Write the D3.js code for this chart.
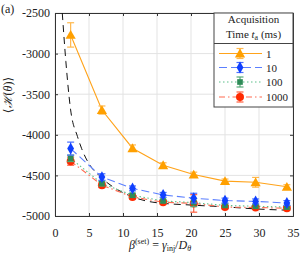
<!DOCTYPE html>
<html><head><meta charset="utf-8">
<script src="https://cdn.jsdelivr.net/npm/d3@7"></script>
<style>body{margin:0;background:#fff}svg{display:block}text{font-family:"Liberation Serif","DejaVu Serif",serif;fill:#222}</style>
</head><body><svg id="c" width="300" height="256"></svg>
<script>
const betas = [2.3, 6.9, 11.4, 15.9, 20.4, 25.0, 29.5, 34.1];
const seriesNames = ["1", "10", "100", "1000"];
const h1 = [-2770, -3695, -4165, -4375, -4490, -4570, -4585, -4640];
const e1 = [150, 50, 40, 30, 30, 25, 60, 25];
const h10 = [-4170, -4520, -4660, -4740, -4780, -4810, -4820, -4840];
const e10 = [80, 40, 30, 30, 60, 30, 30, 30];
const h100 = [-4290, -4600, -4745, -4815, -4835, -4870, -4880, -4890];
const e100 = [40, 30, 25, 20, 50, 20, 20, 20];
const h1000 = [-4325, -4620, -4765, -4830, -4845, -4890, -4895, -4905];
const e1000 = [50, 30, 25, 20, 108, 20, 20, 20];
const theoryBeta = [1.07, 1.6, 2.3, 3.3, 3.9, 5.1, 6.4, 8.5, 10.7, 14.4, 20, 24.5, 30, 35];
const theoryH = [-2500, -3100, -3694, -4020, -4166, -4370, -4495, -4640, -4740, -4830, -4865, -4885, -4915, -4930];
const xTicks = [0, 5, 10, 15, 20, 25, 30, 35];
const yTicks = [-2500, -3000, -3500, -4000, -4500, -5000];

const svg = d3.select("#c");
const L = 55, R = 293, T = 13, B = 216;
const x = d3.scaleLinear().domain([0, 35]).range([L, R]);
const y = d3.scaleLinear().domain([-5000, -2500]).range([B, T]);

const defs = svg.append("defs");
defs.append("clipPath").attr("id", "clip").append("rect").attr("x", L).attr("y", T).attr("width", R - L).attr("height", B - T);

// grid
svg.append("g").selectAll("line").data(xTicks).join("line")
  .attr("x1", d => x(d)).attr("x2", d => x(d)).attr("y1", T).attr("y2", B)
  .attr("stroke", "#e3e3e3").attr("stroke-width", 1);
svg.append("g").selectAll("line").data(yTicks).join("line")
  .attr("x1", L).attr("x2", R).attr("y1", d => y(d)).attr("y2", d => y(d))
  .attr("stroke", "#e3e3e3").attr("stroke-width", 1);

// axes
const ax = svg.append("g").attr("transform", `translate(0,${B})`)
  .call(d3.axisBottom(x).tickValues(xTicks).tickSize(-3).tickPadding(12));
const ay = svg.append("g").attr("transform", `translate(${L},0)`)
  .call(d3.axisLeft(y).tickValues(yTicks).tickSize(-3).tickPadding(5).tickFormat(d => d));
svg.append("g").attr("transform", `translate(0,${T})`)
  .call(d3.axisTop(x).tickValues(xTicks).tickSize(-3).tickFormat(""));
svg.append("g").attr("transform", `translate(${R},0)`)
  .call(d3.axisRight(y).tickValues(yTicks).tickSize(-3).tickFormat(""));
svg.selectAll(".domain").attr("stroke", "#333");
svg.selectAll(".tick line").attr("stroke", "#333");
svg.selectAll(".tick text").style("font-family", '"Liberation Serif",serif').style("font-size", "12px").attr("fill", "#222");

// theory curve
const g = svg.append("g").attr("clip-path", "url(#clip)");
g.append("path").datum(theoryBeta.map((b, i) => [b, theoryH[i]]))
  .attr("d", d3.line().x(d => x(d[0])).y(d => y(d[1])).curve(d3.curveMonotoneX))
  .attr("fill", "none").attr("stroke", "#111").attr("stroke-width", 1).attr("stroke-dasharray", "7,5");

const series = [
  {name: seriesNames[0], h: h1, e: e1, line: "#ffa31a", mark: "#ffa000", err: "#ffb84d", dash: null, sym: d3.symbolTriangle, size: 45},
  {name: seriesNames[1], h: h10, e: e10, line: "#5b7fff", mark: "#1040ff", err: "#4a70ff", dash: "8,4", sym: d3.symbolDiamond, size: 40},
  {name: seriesNames[2], h: h100, e: e100, line: "#5cc08a", mark: "#2e8b57", err: "#55aa77", dash: "1.5,2.5", sym: d3.symbolSquare, size: 32},
  {name: seriesNames[3], h: h1000, e: e1000, line: "#ff6a50", mark: "#ff2a00", err: "#ff6040", dash: "6,3,1.5,3", sym: d3.symbolCircle, size: 50}
];

// lines
series.slice().reverse().forEach(s => {
  g.append("path").datum(betas.map((b, i) => [b, s.h[i]]))
    .attr("d", d3.line().x(d => x(d[0])).y(d => y(d[1])))
    .attr("fill", "none").attr("stroke", s.line).attr("stroke-width", 1.1)
    .attr("stroke-dasharray", s.dash);
});
// error bars + markers
series.slice().reverse().forEach(s => {
  const eg = svg.append("g");
  betas.forEach((b, i) => {
    const cx = x(b), y0 = y(s.h[i] - s.e[i]), y1 = y(s.h[i] + s.e[i]);
    eg.append("line").attr("x1", cx).attr("x2", cx).attr("y1", y0).attr("y2", y1).attr("stroke", s.err).attr("stroke-width", 1.2);
    [y0, y1].forEach(yy => eg.append("line").attr("x1", cx - 3.5).attr("x2", cx + 3.5).attr("y1", yy).attr("y2", yy).attr("stroke", s.err).attr("stroke-width", 1.2));
  });
  eg.selectAll("path").data(betas).join("path")
    .attr("transform", (b, i) => `translate(${x(b)},${y(s.h[i]) + (s.sym === d3.symbolTriangle ? 1 : 0)})`)
    .attr("d", d3.symbol().type(s.sym).size(s.size))
    .attr("fill", s.mark);
});

// legend
const lg = svg.append("g");
lg.append("rect").attr("x", 214).attr("y", T).attr("width", R - 214).attr("height", 94)
  .attr("fill", "#fff").attr("stroke", "#444").attr("stroke-width", 1);
lg.append("line").attr("x1", 214).attr("x2", R).attr("y1", 43.5).attr("y2", 43.5).attr("stroke", "#444");
lg.append("text").attr("x", 253.5).attr("y", 23).attr("text-anchor", "middle").style("font-size", "11px").text("Acquisition");
const t2 = lg.append("text").attr("x", 253.5).attr("y", 38).attr("text-anchor", "middle").style("font-size", "11px");
t2.append("tspan").text("Time ");
t2.append("tspan").style("font-style", "italic").text("t");
t2.append("tspan").attr("dy", 2).style("font-size", "8px").text("a");
t2.append("tspan").attr("dy", -2).text(" (ms)");
const ly = [53.5, 67.5, 82, 97];
series.forEach((s, i) => {
  const yy = ly[i];
  lg.append("line").attr("x1", 219).attr("x2", 262).attr("y1", yy).attr("y2", yy).attr("stroke", s.line).attr("stroke-width", 1.1).attr("stroke-dasharray", s.dash);
  lg.append("line").attr("x1", 240).attr("x2", 240).attr("y1", yy - 5).attr("y2", yy + 5).attr("stroke", s.err).attr("stroke-width", 1.2);
  [yy - 5, yy + 5].forEach(v => lg.append("line").attr("x1", 236.5).attr("x2", 243.5).attr("y1", v).attr("y2", v).attr("stroke", s.err).attr("stroke-width", 1.2));
  lg.append("path").attr("transform", `translate(240,${yy + (s.sym === d3.symbolTriangle ? 1 : 0)})`).attr("d", d3.symbol().type(s.sym).size(s.size)).attr("fill", s.mark);
  lg.append("text").attr("x", 266).attr("y", yy + 4).style("font-size", "11px").text(s.name);
});

// labels
svg.append("text").attr("x", 1).attr("y", 13).style("font-size", "12px").text("(a)");
const yl = svg.append("text").attr("transform", "translate(12,95) rotate(-90)").attr("text-anchor", "middle").style("font-size", "12px");
yl.append("tspan").text("\u27E8");
yl.append("tspan").style("font-style", "italic").text("\u210B");
yl.append("tspan").text("(");
yl.append("tspan").style("font-style", "italic").text("\u03B8");
yl.append("tspan").text(")\u27E9");
const xl = svg.append("text").attr("x", 160).attr("y", 249).attr("text-anchor", "middle").style("font-size", "12px");
xl.append("tspan").style("font-style", "italic").text("\u03B2");
xl.append("tspan").attr("dy", -5).style("font-size", "8px").text("(set)");
xl.append("tspan").attr("dy", 5).text(" = ");
xl.append("tspan").style("font-style", "italic").text("\u03B3");
xl.append("tspan").attr("dy", 2).style("font-size", "8px").text("inj");
xl.append("tspan").attr("dy", -2).text("/");
xl.append("tspan").style("font-style", "italic").text("D");
xl.append("tspan").attr("dy", 2).style("font-size", "8px").style("font-style", "italic").text("\u03B8");
</script></body></html>
